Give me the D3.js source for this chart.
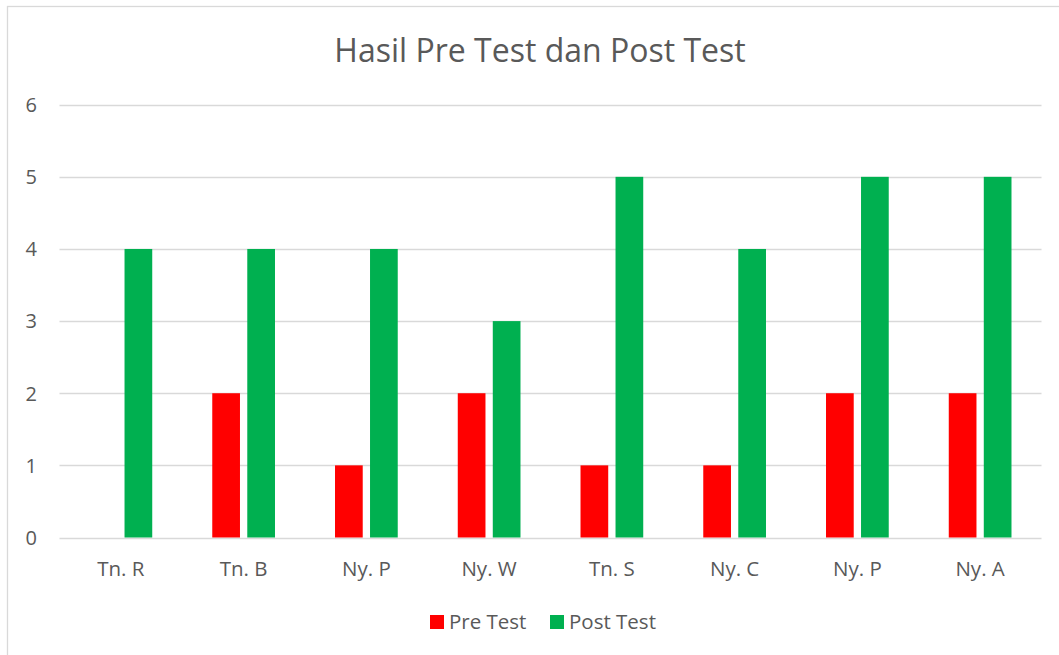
<!DOCTYPE html>
<html>
<head>
<meta charset="utf-8">
<script src="https://cdn.jsdelivr.net/npm/d3@7"></script>
<style>
  body { margin: 0; background: #fff; }
  text { font-family: "Open Sans", Lato, sans-serif; fill: #595959; }
</style>
</head>
<body>
<div id="chart"></div>
<script>
// chart data
var categories = ["Tn. R", "Tn. B", "Ny. P", "Ny. W", "Tn. S", "Ny. C", "Ny. P", "Ny. A"];
var preTest = [0, 2, 1, 2, 1, 1, 2, 2];
var postTest = [4, 4, 4, 3, 5, 4, 5, 5];
var seriesNames = ["Pre Test", "Post Test"];
var seriesColors = ["#ff0000", "#00b050"];
var yTicks = [0, 1, 2, 3, 4, 5, 6];

var W = 1059, H = 655;
var plot = { left: 59.5, right: 1041.5, top: 104.7, bottom: 537.5 };

var svg = d3.select("#chart").append("svg")
  .attr("width", W)
  .attr("height", H);

// outer chart border (only left/top visible in the crop)
svg.append("rect")
  .attr("x", 7.5).attr("y", 6.5)
  .attr("width", 1070).attr("height", 670)
  .attr("fill", "none")
  .attr("stroke", "#d9d9d9")
  .attr("stroke-width", 1.3);

var x = d3.scaleBand()
  .domain(d3.range(categories.length))
  .range([plot.left, plot.right])
  .paddingInner(0).paddingOuter(0);

var y = d3.scaleLinear()
  .domain([0, 6])
  .range([plot.bottom, plot.top]);

// inner band for the two series
var bw = x.bandwidth();
var xs = d3.scaleBand()
  .domain([0, 1])
  .range([bw * 0.2445, bw * 0.7555])
  .paddingInner(0.2086);

// gridlines
svg.append("g")
  .selectAll("line")
  .data(yTicks)
  .enter().append("line")
  .attr("x1", plot.left).attr("x2", plot.right)
  .attr("y1", function(d) { return Math.round(y(d)) + 0.5; })
  .attr("y2", function(d) { return Math.round(y(d)) + 0.5; })
  .attr("stroke", "#d9d9d9")
  .attr("stroke-width", 1.5);

// y tick labels
svg.append("g")
  .selectAll("text")
  .data(yTicks)
  .enter().append("text")
  .attr("x", 37)
  .attr("y", function(d) { return y(d) + 7.3; })
  .attr("text-anchor", "end")
  .style("font-size", "20px")
  .text(function(d) { return d; });

// bars
var series = [preTest, postTest];
series.forEach(function(vals, s) {
  svg.append("g")
    .selectAll("rect")
    .data(vals)
    .enter().append("rect")
    .attr("x", function(d, i) { return x(i) + xs(s); })
    .attr("width", xs.bandwidth())
    .attr("y", function(d) { return y(d); })
    .attr("height", function(d) { return y(0) - y(d); })
    .attr("fill", seriesColors[s]);
});

// x labels
svg.append("g")
  .selectAll("text")
  .data(categories)
  .enter().append("text")
  .attr("x", function(d, i) { return x(i) + bw / 2; })
  .attr("y", 576)
  .attr("text-anchor", "middle")
  .style("font-size", "20.5px")
  .text(function(d) { return d; });

// title
svg.append("text")
  .attr("x", 540)
  .attr("y", 61.5)
  .attr("text-anchor", "middle")
  .style("font-size", "32px")
  .text("Hasil Pre Test dan Post Test");

// legend
var legendX = [430, 550];
var legend = svg.append("g")
  .selectAll("g")
  .data(seriesNames)
  .enter().append("g")
  .attr("transform", function(d, i) { return "translate(" + legendX[i] + ",615)"; });

legend.append("rect")
  .attr("width", 14).attr("height", 14)
  .attr("fill", function(d, i) { return seriesColors[i]; });

legend.append("text")
  .attr("x", 19)
  .attr("y", 14)
  .style("font-size", "20.5px")
  .text(function(d) { return d; });
</script>
</body>
</html>
